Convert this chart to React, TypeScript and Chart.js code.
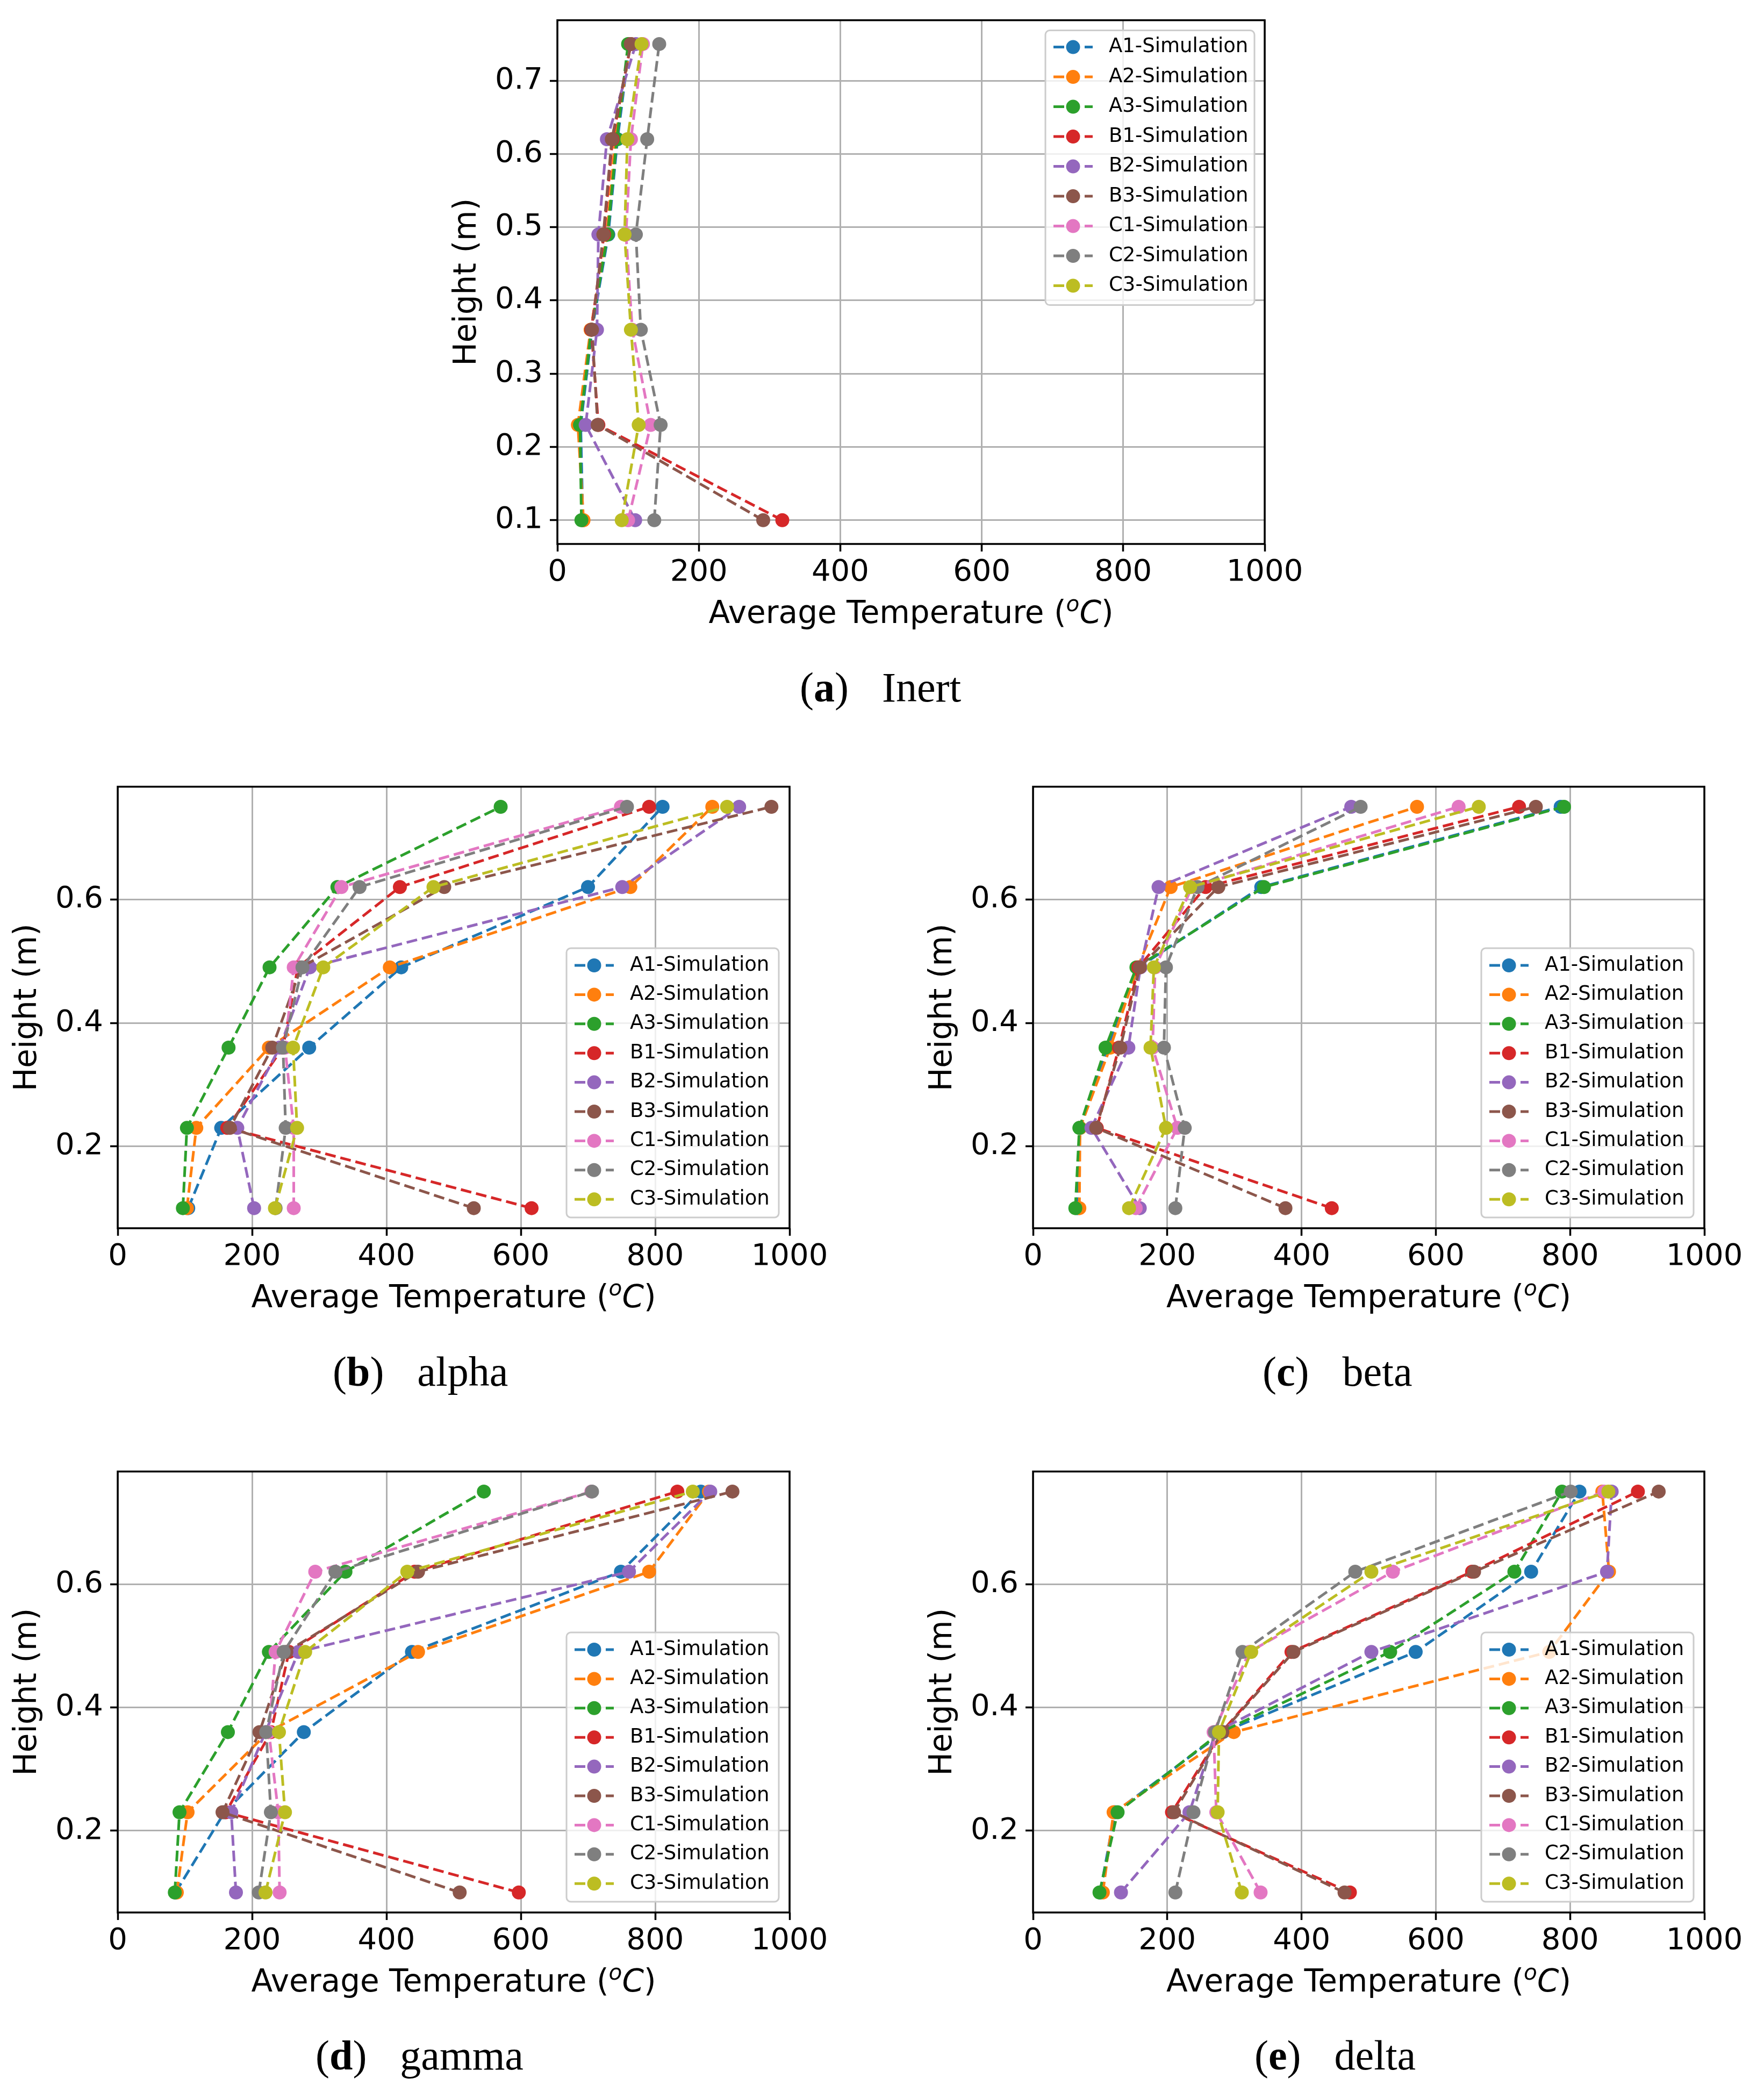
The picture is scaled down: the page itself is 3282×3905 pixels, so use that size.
import { useEffect, useRef } from "react"
import { Chart, registerables } from "chart.js"

Chart.register(...registerables)
Chart.defaults.font.family = "'DejaVu Sans', sans-serif"
Chart.defaults.color = "#000"

const heights = [0.1, 0.23, 0.36, 0.49, 0.62, 0.75]
const seriesNames = [
  "A1-Simulation",
  "A2-Simulation",
  "A3-Simulation",
  "B1-Simulation",
  "B2-Simulation",
  "B3-Simulation",
  "C1-Simulation",
  "C2-Simulation",
  "C3-Simulation",
]
const seriesColors = [
  "#1f77b4",
  "#ff7f0e",
  "#2ca02c",
  "#d62728",
  "#9467bd",
  "#8c564b",
  "#e377c2",
  "#7f7f7f",
  "#bcbd22",
]
const tempTicks = [0, 200, 400, 600, 800, 1000]
const inertHeightTicks = [0.1, 0.2, 0.3, 0.4, 0.5, 0.6, 0.7]
const heightTicks = [0.2, 0.4, 0.6]

// average temperature per height (0.1 ... 0.75), rows A1..C3
const inert = [
  [36, 33, 49, 72, 85, 102],
  [37, 29, 47, 70, 82, 103],
  [34, 32, 48, 71, 84, 100],
  [318, 58, 48, 66, 78, 104],
  [110, 40, 56, 58, 70, 111],
  [291, 57, 49, 65, 77, 104],
  [100, 132, 106, 97, 104, 121],
  [137, 146, 118, 111, 127, 144],
  [91, 115, 104, 95, 99, 119],
]
const alpha = [
  [105, 154, 285, 422, 700, 811],
  [103, 117, 225, 405, 763, 885],
  [97, 103, 165, 226, 327, 570],
  [616, 163, 246, 268, 420, 791],
  [203, 178, 241, 286, 751, 925],
  [530, 167, 230, 273, 486, 973],
  [262, 262, 249, 262, 333, 749],
  [235, 250, 246, 275, 360, 758],
  [234, 267, 261, 306, 470, 907],
]
const beta = [
  [66, 70, 111, 157, 340, 786],
  [69, 70, 115, 156, 205, 572],
  [63, 69, 108, 154, 344, 791],
  [445, 95, 128, 157, 257, 724],
  [159, 87, 142, 160, 187, 474],
  [376, 94, 130, 159, 276, 749],
  [153, 215, 178, 182, 237, 634],
  [212, 226, 195, 198, 245, 488],
  [143, 198, 175, 180, 234, 664],
]
const gamma = [
  [86, 159, 277, 438, 749, 868],
  [88, 104, 224, 447, 791, 880],
  [85, 92, 164, 225, 339, 545],
  [597, 161, 228, 255, 442, 833],
  [176, 169, 220, 269, 761, 882],
  [509, 156, 211, 251, 447, 915],
  [241, 239, 225, 235, 294, 705],
  [210, 228, 221, 247, 324, 706],
  [220, 249, 240, 279, 431, 856],
]
const delta = [
  [100, 122, 283, 570, 742, 814],
  [104, 120, 299, 769, 858, 848],
  [99, 126, 280, 532, 717, 788],
  [472, 207, 281, 385, 654, 901],
  [131, 233, 272, 504, 855, 862],
  [464, 210, 282, 388, 657, 932],
  [339, 273, 269, 322, 536, 851],
  [212, 239, 271, 312, 480, 801],
  [311, 275, 277, 325, 504, 857],
]

const AXIS_W = 260
const AXIS_H = 110
const PAD_TOP = 40
const PAD_RIGHT = 90
const DASH = [20, 9]

// black box round the plot area, like matplotlib spines
const frame = {
  id: "frame",
  afterDatasetsDraw(chart: any) {
    const { ctx, chartArea: a } = chart
    ctx.save()
    ctx.strokeStyle = "#000"
    ctx.lineWidth = 3.5
    ctx.strokeRect(a.left, a.top, a.right - a.left, a.bottom - a.top)
    ctx.restore()
  },
}

// legend drawn inside the plot area
const boxLegend = {
  id: "boxLegend",
  afterDraw(chart: any, _args: any, opts: any) {
    const { ctx, chartArea } = chart
    const x = chartArea.right - opts.inset - opts.width
    const y =
      opts.corner === "top"
        ? chartArea.top + opts.inset
        : chartArea.bottom - opts.inset - opts.height
    ctx.save()
    ctx.beginPath()
    ctx.roundRect(x, y, opts.width, opts.height, 8)
    ctx.fillStyle = "rgba(255,255,255,0.8)"
    ctx.fill()
    ctx.strokeStyle = "#cccccc"
    ctx.lineWidth = 3
    ctx.stroke()
    chart.data.datasets.forEach((ds: any, i: number) => {
      const cy = y + opts.firstRow + i * opts.rowGap
      ctx.strokeStyle = ds.borderColor
      ctx.lineWidth = 5
      ctx.setLineDash(DASH)
      ctx.beginPath()
      ctx.moveTo(x + 15, cy)
      ctx.lineTo(x + 88, cy)
      ctx.stroke()
      ctx.setLineDash([])
      ctx.fillStyle = ds.borderColor
      ctx.beginPath()
      ctx.arc(x + 51.5, cy, 13, 0, Math.PI * 2)
      ctx.fill()
      ctx.fillStyle = "#000"
      ctx.font = "37px 'DejaVu Sans'"
      ctx.textBaseline = "middle"
      ctx.fillText(ds.label, x + 118, cy)
    })
    ctx.restore()
  },
}

interface Rect {
  left: number
  top: number
  width: number
  height: number
}

interface PanelProps {
  temps: number[][]
  yTicks: number[]
  plot: Rect
  legend: any
  letter: string
  name: string
  captionLeft: number
  captionTop: number
}

function Panel({ temps, yTicks, plot, legend, letter, name, captionLeft, captionTop }: PanelProps) {
  const canvasRef = useRef<HTMLCanvasElement>(null)
  const w = AXIS_W + plot.width + PAD_RIGHT
  const h = PAD_TOP + plot.height + AXIS_H

  useEffect(() => {
    if (!canvasRef.current) return
    const ctx = canvasRef.current.getContext("2d")
    if (!ctx) return

    const chart = new Chart(ctx, {
      type: "scatter",
      data: {
        datasets: temps.map((row, i) => ({
          label: seriesNames[i],
          data: row.map((t, j) => ({ x: t, y: heights[j] })),
          showLine: true,
          borderColor: seriesColors[i],
          backgroundColor: seriesColors[i],
          borderWidth: 5,
          borderDash: DASH,
          pointRadius: 13,
          pointHoverRadius: 13,
          pointBorderWidth: 0,
          order: temps.length - i, // later series on top
        })),
      },
      options: {
        animation: false,
        responsive: false,
        events: [],
        layout: { padding: { top: PAD_TOP, right: PAD_RIGHT, left: 0, bottom: 0 } },
        plugins: {
          legend: { display: false },
          tooltip: { enabled: false },
          boxLegend: legend,
        } as any,
        scales: {
          x: {
            type: "linear",
            min: 0,
            max: 1000,
            afterFit: (s: any) => {
              s.height = AXIS_H
            },
            afterBuildTicks: (s: any) => {
              s.ticks = tempTicks.map((value) => ({ value }))
            },
            border: { display: false },
            grid: {
              color: "#b0b0b0",
              lineWidth: 3,
              tickColor: "#000",
              tickWidth: 3.5,
              tickLength: 14,
            },
            ticks: {
              font: { size: 56 },
              padding: 6,
              maxRotation: 0,
              autoSkip: false,
              callback: (v: any) => String(v),
            },
          },
          y: {
            type: "linear",
            min: 0.0675,
            max: 0.7825,
            afterFit: (s: any) => {
              s.width = AXIS_W
            },
            afterBuildTicks: (s: any) => {
              s.ticks = yTicks.map((value) => ({ value }))
            },
            border: { display: false },
            grid: {
              color: "#b0b0b0",
              lineWidth: 3,
              tickColor: "#000",
              tickWidth: 3.5,
              tickLength: 14,
            },
            ticks: {
              font: { size: 56 },
              padding: 13,
              autoSkip: false,
              callback: (v: any) => Number(v).toFixed(1),
            },
            title: {
              display: true,
              text: "Height (m)",
              font: { size: 58 },
              padding: { top: 58, bottom: 0 },
            },
          },
        },
      },
      plugins: [frame, boxLegend],
    })

    return () => {
      chart.destroy()
    }
  }, [temps, yTicks, legend])

  return (
    <>
      <canvas
        ref={canvasRef}
        width={w}
        height={h}
        style={{ position: "absolute", left: plot.left - AXIS_W, top: plot.top - PAD_TOP, width: w, height: h }}
      />
      <div
        style={{
          position: "absolute",
          left: plot.left,
          top: plot.top + plot.height + 98,
          width: plot.width,
          textAlign: "center",
          fontFamily: "'DejaVu Sans', sans-serif",
          fontSize: 58,
          lineHeight: "58px",
          whiteSpace: "nowrap",
        }}
      >
        Average Temperature (
        <span style={{ fontStyle: "italic", fontSize: "0.7em", position: "relative", top: "-0.55em" }}>o</span>
        <span style={{ fontStyle: "italic" }}>C</span>)
      </div>
      <div
        style={{
          position: "absolute",
          left: captionLeft,
          top: captionTop,
          fontFamily: "'Liberation Serif', serif",
          fontSize: 78,
          lineHeight: "78px",
          whiteSpace: "nowrap",
        }}
      >
        (<b>{letter}</b>)<span style={{ marginLeft: 62 }}>{name}</span>
      </div>
    </>
  )
}

const topLegend = { corner: "top", inset: 19, width: 389, height: 511, firstRow: 31, rowGap: 55.5 }
const bottomLegend = { corner: "bottom", inset: 20, width: 395, height: 501, firstRow: 32, rowGap: 54.4 }

export default function App() {
  return (
    <div style={{ position: "absolute", left: 0, top: 0, width: 3282, height: 3905, background: "#fff", overflow: "hidden" }}>
      <Panel
        temps={inert}
        yTicks={inertHeightTicks}
        plot={{ left: 1037, top: 31, width: 1316, height: 981 }}
        legend={topLegend}
        letter="a"
        name="Inert"
        captionLeft={1488}
        captionTop={1240}
      />
      <Panel
        temps={alpha}
        yTicks={heightTicks}
        plot={{ left: 219, top: 1457, width: 1250, height: 828 }}
        legend={bottomLegend}
        letter="b"
        name="alpha"
        captionLeft={619}
        captionTop={2513}
      />
      <Panel
        temps={beta}
        yTicks={heightTicks}
        plot={{ left: 1922, top: 1457, width: 1249, height: 828 }}
        legend={bottomLegend}
        letter="c"
        name="beta"
        captionLeft={2349}
        captionTop={2513}
      />
      <Panel
        temps={gamma}
        yTicks={heightTicks}
        plot={{ left: 219, top: 2731, width: 1250, height: 827 }}
        legend={bottomLegend}
        letter="d"
        name="gamma"
        captionLeft={587}
        captionTop={3785}
      />
      <Panel
        temps={delta}
        yTicks={heightTicks}
        plot={{ left: 1922, top: 2731, width: 1249, height: 827 }}
        legend={bottomLegend}
        letter="e"
        name="delta"
        captionLeft={2334}
        captionTop={3785}
      />
    </div>
  )
}
